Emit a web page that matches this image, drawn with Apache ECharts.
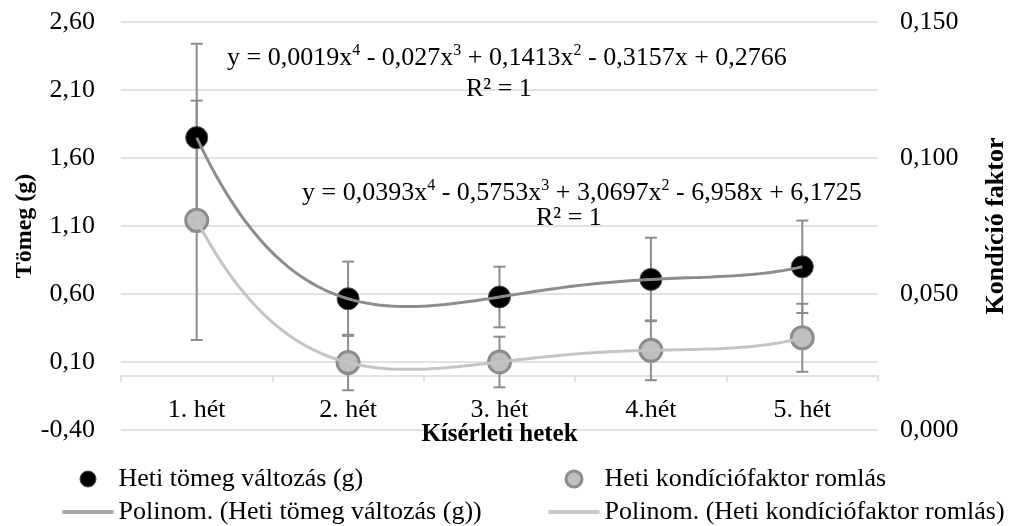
<!DOCTYPE html>
<html>
<head>
<meta charset="utf-8">
<script src="https://cdn.jsdelivr.net/npm/echarts@6/dist/echarts.min.js"></script>
<style>
  html, body { margin: 0; padding: 0; background: #ffffff; }
  #chart { width: 1017px; height: 526px; }
</style>
</head>
<body>
<div id="chart"></div>
<script>
// Weekly values per experimental week
const categories = ['1. hét', '2. hét', '3. hét', '4.hét', '5. hét'];
const massChange = [1.75, 0.565, 0.578, 0.707, 0.80];        // g, left axis
const massErr = [0.69, 0.273, 0.223, 0.307, 0.34];
const conditionLoss = [0.0771, 0.0248, 0.0250, 0.0293, 0.0339]; // right axis
const conditionErr = [0.044, 0.0102, 0.0093, 0.011, 0.0125];

const massName = 'Heti tömeg változás (g)';
const condName = 'Heti kondíciófaktor romlás';
const massTrendName = 'Polinom. (Heti tömeg változás (g))';
const condTrendName = 'Polinom. (Heti kondíciófaktor romlás)';

const condEquation = ['y = 0,0019x', '4', ' - 0,027x', '3', ' + 0,1413x', '2', ' - 0,3157x + 0,2766'];
const massEquation = ['y = 0,0393x', '4', ' - 0,5753x', '3', ' + 3,0697x', '2', ' - 6,958x + 6,1725'];
const rSquared = 'R² = 1';

const FONT = 'Liberation Serif';

// Least-squares polynomial trendline (degree 4) through the weekly points
function polyFit(xs, ys, degree) {
  const n = degree + 1;
  const A = [];
  for (let r = 0; r < n; r++) {
    const row = [];
    for (let c = 0; c < n; c++) {
      let s = 0;
      for (let k = 0; k < xs.length; k++) s += Math.pow(xs[k], r + c);
      row.push(s);
    }
    let b = 0;
    for (let k = 0; k < xs.length; k++) b += ys[k] * Math.pow(xs[k], r);
    row.push(b);
    A.push(row);
  }
  for (let i = 0; i < n; i++) {
    let p = i;
    for (let j = i + 1; j < n; j++) if (Math.abs(A[j][i]) > Math.abs(A[p][i])) p = j;
    [A[i], A[p]] = [A[p], A[i]];
    for (let j = 0; j < n; j++) {
      if (j === i) continue;
      const f = A[j][i] / A[i][i];
      for (let c = i; c <= n; c++) A[j][c] -= f * A[i][c];
    }
  }
  return A.map((row, i) => row[n] / row[i]);
}
function trendPoints(values) {
  const xs = values.map((_, i) => i + 1);
  const coef = polyFit(xs, values, 4);
  const pts = [];
  for (let x = 1; x <= 5.0001; x += 0.04) {
    let y = 0;
    for (let p = 0; p < coef.length; p++) y += coef[p] * Math.pow(x, p);
    pts.push([x, y]);
  }
  return pts;
}

function errorBarItem(color) {
  return function (params, api) {
    const idx = api.value(0);
    const v = api.value(1);
    const e = api.value(2);
    const top = api.coord([idx, v + e]);
    const bot = api.coord([idx, v - e]);
    const hw = 6;
    const style = { stroke: color, lineWidth: 2 };
    return {
      type: 'group',
      children: [
        { type: 'line', shape: { x1: top[0], y1: top[1], x2: bot[0], y2: bot[1] }, style: style },
        { type: 'line', shape: { x1: top[0] - hw, y1: top[1], x2: top[0] + hw, y2: top[1] }, style: style },
        { type: 'line', shape: { x1: bot[0] - hw, y1: bot[1], x2: bot[0] + hw, y2: bot[1] }, style: style }
      ]
    };
  };
}

function richEquation(parts) {
  return parts.map((p, i) => (i % 2 === 1 ? '{s|' + p + '}' : '{m|' + p + '}')).join('');
}
const eqRich = {
  m: { fontFamily: FONT, fontSize: 26, lineHeight: 30, fill: '#000' },
  s: { fontFamily: FONT, fontSize: 16, lineHeight: 20, verticalAlign: 'top', fill: '#000' }
};

const chart = echarts.init(document.getElementById('chart'), null, { renderer: 'canvas' });

const legendCommon = {
  orient: 'vertical',
  itemWidth: 51,
  itemHeight: 18,
  itemGap: 7,
  padding: 0,
  selectedMode: false,
  textStyle: { fontFamily: FONT, fontSize: 26, color: '#000' }
};
// legend glyphs laid out in a 51 x 18 box: a short bar, and a centred dot
const lineIcon = 'path://M0,7 L51,7 L51,11 L0,11 Z';
const dotIcon = (d) => {
  const r = d / 2, cx = 25.5, cy = 9;
  return 'path://M0,0 M51,18 M' + (cx + r) + ',' + cy +
    ' A' + r + ',' + r + ' 0 1 1 ' + (cx - r) + ',' + cy +
    ' A' + r + ',' + r + ' 0 1 1 ' + (cx + r) + ',' + cy + ' Z';
};

chart.setOption({
  backgroundColor: '#ffffff',
  animation: false,
  grid: { left: 121, right: 139, top: 22, bottom: 96, containLabel: false },
  legend: [
    Object.assign({
      left: 62, top: 466,
      data: [
        { name: massName, icon: dotIcon(16), itemStyle: { color: '#000', borderColor: '#4d4d4d', borderWidth: 1, opacity: 1 } },
        { name: massTrendName, icon: lineIcon, itemStyle: { color: '#a6a6a6', borderWidth: 0 } }
      ]
    }, legendCommon),
    Object.assign({
      left: 547, top: 466,
      data: [
        { name: condName, icon: dotIcon(16), itemStyle: { color: '#bfbfbf', borderColor: '#8c8c8c', borderWidth: 3, opacity: 1 } },
        { name: condTrendName, icon: lineIcon, itemStyle: { color: '#c8c8c8', borderWidth: 0 } }
      ]
    }, legendCommon)
  ],
  xAxis: [
    {
      type: 'category',
      data: categories,
      boundaryGap: true,
      axisLine: { onZero: true, onZeroAxisIndex: 0, lineStyle: { color: '#d9d9d9', width: 1.5 } },
      axisTick: { show: true, length: 6, lineStyle: { color: '#d9d9d9', width: 1.5 } },
      axisLabel: { interval: 0, margin: -33, fontFamily: FONT, fontSize: 26, color: '#000' },
      name: 'Kísérleti hetek',
      nameLocation: 'middle',
      nameGap: -8,
      nameMoveOverlap: false,
      nameTextStyle: { fontFamily: FONT, fontSize: 25, fontWeight: 'bold', color: '#000' }
    },
    { type: 'value', min: 0.5, max: 5.5, show: false }
  ],
  yAxis: [
    {
      type: 'value',
      min: -0.4,
      max: 2.6,
      interval: 0.5,
      axisLine: { show: false },
      axisTick: { show: false },
      splitLine: { lineStyle: { color: '#d9d9d9', width: 1.5 } },
      axisLabel: {
        margin: 26, fontFamily: FONT, fontSize: 26, color: '#000',
        formatter: v => v.toFixed(2).replace('.', ',')
      },
      name: 'Tömeg (g)',
      nameLocation: 'middle',
      nameRotate: 90,
      nameGap: 84,
      nameMoveOverlap: false,
      nameTextStyle: { fontFamily: FONT, fontSize: 24, fontWeight: 'bold', color: '#000' }
    },
    {
      type: 'value',
      min: 0,
      max: 0.15,
      interval: 0.05,
      position: 'right',
      axisLine: { show: false },
      axisTick: { show: false },
      splitLine: { show: false },
      axisLabel: {
        margin: 22, fontFamily: FONT, fontSize: 26, color: '#000',
        formatter: v => v.toFixed(3).replace('.', ',')
      },
      name: 'Kondíció faktor',
      nameLocation: 'middle',
      nameRotate: 90,
      nameGap: 105,
      nameMoveOverlap: false,
      nameTextStyle: { fontFamily: FONT, fontSize: 26, fontWeight: 'bold', color: '#000' }
    }
  ],
  series: [
    {
      name: 'massErr',
      type: 'custom',
      xAxisIndex: 0,
      yAxisIndex: 0,
      z: 1,
      renderItem: errorBarItem('#8c8c8c'),
      data: massChange.map((v, i) => [i, v, massErr[i]])
    },
    {
      name: 'condErr',
      type: 'custom',
      xAxisIndex: 0,
      yAxisIndex: 1,
      z: 1,
      renderItem: errorBarItem('#8c8c8c'),
      data: conditionLoss.map((v, i) => [i, v, conditionErr[i]])
    },
    {
      name: massName,
      type: 'scatter',
      xAxisIndex: 0,
      yAxisIndex: 0,
      z: 3,
      symbol: 'circle',
      symbolSize: 22,
      itemStyle: { color: '#000000', borderColor: '#4d4d4d', borderWidth: 1, opacity: 1 },
      data: massChange
    },
    {
      name: condName,
      type: 'scatter',
      xAxisIndex: 0,
      yAxisIndex: 1,
      z: 3,
      symbol: 'circle',
      symbolSize: 22,
      itemStyle: { color: '#bfbfbf', borderColor: '#8c8c8c', borderWidth: 3, opacity: 1 },
      data: conditionLoss
    },
    {
      name: massTrendName,
      type: 'line',
      xAxisIndex: 1,
      yAxisIndex: 0,
      z: 4,
      symbol: 'none',
      smooth: false,
      lineStyle: { color: '#8c8c8c', width: 3 },
      itemStyle: { color: '#8c8c8c' },
      data: trendPoints(massChange)
    },
    {
      name: condTrendName,
      type: 'line',
      xAxisIndex: 1,
      yAxisIndex: 1,
      z: 4,
      symbol: 'none',
      smooth: false,
      lineStyle: { color: '#c4c4c4', width: 3 },
      itemStyle: { color: '#c4c4c4' },
      data: trendPoints(conditionLoss)
    }
  ],
  graphic: [
    { type: 'text', left: 227, top: 43, z: 10, style: { text: richEquation(condEquation), rich: eqRich } },
    { type: 'text', left: 466, top: 76, z: 10, style: { text: rSquared, fontFamily: FONT, fontSize: 26, fill: '#000' } },
    { type: 'text', left: 302, top: 178, z: 10, style: { text: richEquation(massEquation), rich: eqRich } },
    { type: 'text', left: 536, top: 205, z: 10, style: { text: rSquared, fontFamily: FONT, fontSize: 26, fill: '#000' } }
  ]
});
</script>
</body>
</html>
